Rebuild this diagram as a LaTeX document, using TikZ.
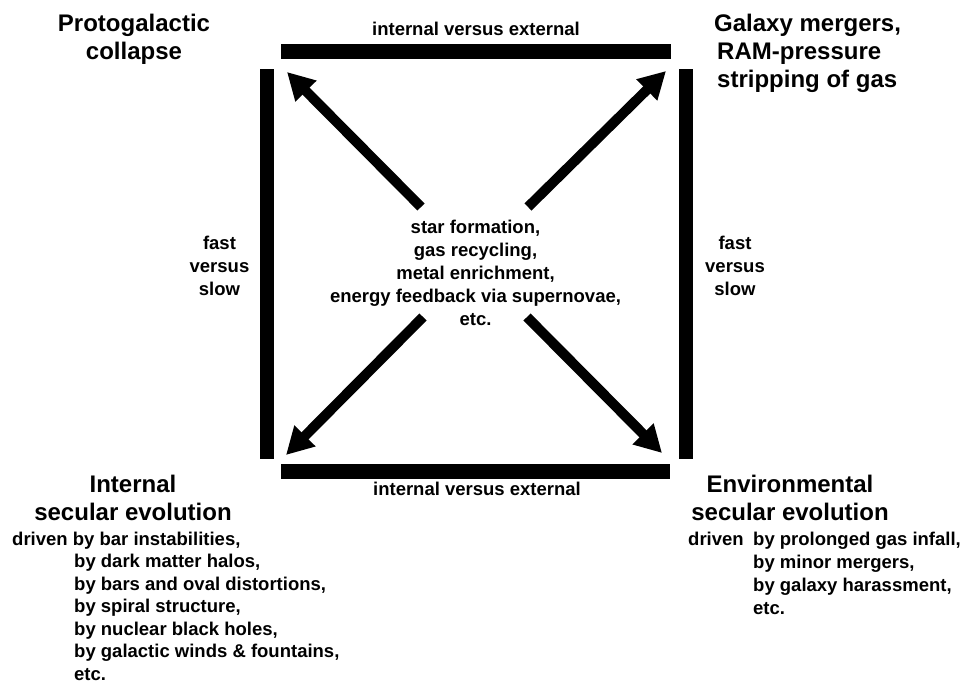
\documentclass[tikz,border=0pt]{standalone}
\usepackage{fontspec}
\setmainfont{Liberation Sans}
\usetikzlibrary{arrows.meta}
\newcommand\bigfnt{\fontsize{24}{28}\selectfont\bfseries}
\newcommand\smlfnt{\fontsize{18.5}{23}\selectfont\bfseries}
\newcommand\lstfnt{\fontsize{18.5}{22.5}\selectfont\bfseries}
\tikzset{
  bar/.style={fill=black},
  bigarrow/.style={line width=10pt, -{Triangle[length=27pt,width=28pt]}},
  heading/.style={font=\bigfnt, inner sep=0pt, align=center, anchor=base},
  label/.style={font=\smlfnt, inner sep=0pt, align=center, anchor=base},
  listtext/.style={inner sep=0pt, align=left, anchor=base west},
}
\begin{document}
\begin{tikzpicture}[x=1pt,y=-1pt]
\useasboundingbox[fill=white] (0,0) rectangle (968,684);
% bars
\fill[bar] (281,44) rectangle (671,59);
\fill[bar] (281,464) rectangle (670,479);
\fill[bar] (260,69) rectangle (274,459);
\fill[bar] (679,69) rectangle (693,459);
% headings (base anchor = baseline of last line)
\node[heading] (proto) at (134,60) {Protogalactic\\collapse};
\node[heading, align=left, anchor=base west] (merge) at (714,88) {Galaxy mergers,\\\hspace*{3pt}RAM-pressure\\\hspace*{3pt}stripping of gas};
\node[heading] (intsec) at (133,520) {Internal\\secular evolution};
\node[heading] (envsec) at (790,520) {Environmental\\secular evolution};
% bar labels
\node[label] (ietop) at (476,36) {internal versus external};
\node[label] (iebot) at (477,495) {internal versus external};
\node[label] (fsl) at (219.5,295) {fast\\versus\\slow};
\node[label] (fsr) at (735,296) {fast\\versus\\slow};
% centre
\node[label] (centre) at (475.5,325) {star formation,\\gas recycling,\\metal enrichment,\\energy feedback via supernovae,\\etc.};
% lists
\node[listtext, font=\lstfnt] (intlist) at (12,680) {driven by bar instabilities,\\
\hspace*{62pt}by dark matter halos,\\
\hspace*{62pt}by bars and oval distortions,\\
\hspace*{62pt}by spiral structure,\\
\hspace*{62pt}by nuclear black holes,\\
\hspace*{62pt}by galactic winds \& fountains,\\
\hspace*{62pt}etc.};
\node[listtext, font=\smlfnt] (envlist) at (688,614) {\makebox[65pt][l]{driven}by prolonged gas infall,\\
\hspace*{65pt}by minor mergers,\\
\hspace*{65pt}by galaxy harassment,\\
\hspace*{65pt}etc.};
% arrows
\coordinate (tls) at (421,207); \coordinate (tle) at (287,72);
\coordinate (trs) at (528,207); \coordinate (tre) at (666,71);
\coordinate (bls) at (423,317); \coordinate (ble) at (286,455);
\coordinate (brs) at (527,317); \coordinate (bre) at (662,453);
\draw[bigarrow] (tls) -- (tle);
\draw[bigarrow] (trs) -- (tre);
\draw[bigarrow] (bls) -- (ble);
\draw[bigarrow] (brs) -- (bre);
\end{tikzpicture}
\end{document}
